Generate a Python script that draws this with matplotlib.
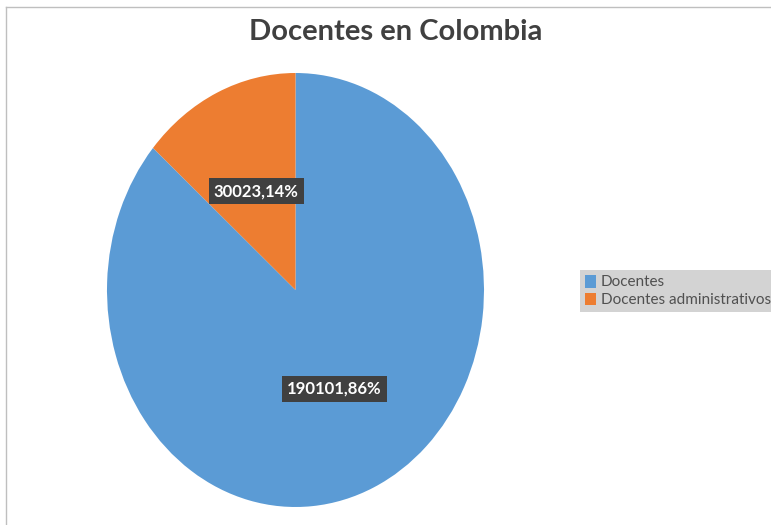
import matplotlib.pyplot as plt
from matplotlib.lines import Line2D

# datos
categorias = ['Docentes', 'Docentes administrativos']
valores = [190101, 30023]
colores = ['#5B9BD5', '#ED7D31']
titulo = 'Docentes en Colombia'

plt.rcParams['font.family'] = ['Lato', 'DejaVu Sans']

total = sum(valores)

def etiqueta(p):
    return '{:d},{:.0f}%'.format(int(round(p * total / 100)), p)

fig = plt.figure(figsize=(7.71, 5.25), dpi=100)
W, H = 771, 525
ax = fig.add_axes([107 / W, (H - 507) / H, 377 / W, 434 / H])

wedges, texts, autotexts = ax.pie(valores, colors=colores, startangle=90, counterclock=False,
                                  autopct=etiqueta, pctdistance=0.5,
                                  wedgeprops=dict(linewidth=0))
for t in autotexts:
    t.set_color('white')
    t.set_fontsize(12)
    t.set_fontweight('bold')
    t.set_bbox(dict(facecolor='#404040', edgecolor='none', boxstyle='square,pad=0.3'))
ax.set_aspect('auto')
ax.set_xlim(-1, 1)
ax.set_ylim(-1, 1)

fig.text(396 / W, 1 - 32 / H, titulo, ha='center', va='center', fontsize=21,
         fontweight='bold', color='#404040')

leg = fig.legend(wedges, categorias, loc='center left', bbox_to_anchor=(580 / W, 1 - 291 / H),
                 frameon=True, fancybox=False, fontsize=11, handlelength=0.7, handleheight=0.9,
                 handletextpad=0.3, labelspacing=0.2, borderpad=0.35, borderaxespad=0)
leg.get_frame().set_facecolor('#c9c9c9')
leg.get_frame().set_edgecolor('none')
for t in leg.get_texts():
    t.set_color('#505050')

# borde del grafico
fig.add_artist(Line2D([6 / W, 1], [1 - 7 / H, 1 - 7 / H], color='#bfbfbf', lw=1))
fig.add_artist(Line2D([6 / W, 6 / W], [0, 1 - 7 / H], color='#bfbfbf', lw=1))

fig.savefig('out.png', dpi=100)
